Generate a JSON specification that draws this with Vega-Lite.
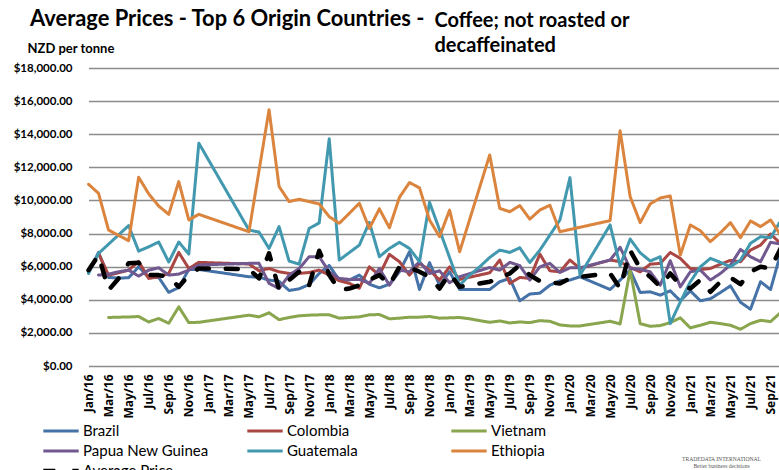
{
"$schema":"https://vega.github.io/schema/vega-lite/v6.json",
"width":695,"height":298,
"autosize":"none",
"padding":{"left":84,"top":68,"right":0,"bottom":104},
"background":"white",
"title":{"text":"Average Prices - Top 6 Origin Countries -","anchor":"start","frame":"group","dx":-54,"dy":21,"font":"Lato","fontSize":21.9,"fontWeight":"bold","color":"#000000","offset":0},
"data":{"values":[
{"m":"Jan/16","Brazil":5650,"Guatemala":5590,"Ethiopia":10980,"Average Price":5790},
{"m":"Feb/16","Brazil":6860,"Colombia":6800,"Papua New Guinea":5490,"Guatemala":6800,"Ethiopia":10430,"Average Price":6700},
{"m":"Mar/16","Brazil":5350,"Colombia":5490,"Vietnam":2930,"Papua New Guinea":5550,"Ethiopia":8210,"Average Price":4580},
{"m":"Apr/16","Brazil":5310,"Colombia":5630,"Vietnam":2950,"Papua New Guinea":5690,"Average Price":5290},
{"m":"May/16","Brazil":5330,"Colombia":5790,"Vietnam":2960,"Papua New Guinea":5790,"Guatemala":8480,"Ethiopia":7570,"Average Price":6200},
{"m":"Jun/16","Brazil":5990,"Colombia":6320,"Vietnam":2990,"Papua New Guinea":5430,"Guatemala":6940,"Ethiopia":11400,"Average Price":6240},
{"m":"Jul/16","Brazil":5350,"Colombia":5290,"Vietnam":2660,"Papua New Guinea":5790,"Guatemala":7200,"Ethiopia":10400,"Average Price":5490},
{"m":"Aug/16","Brazil":5350,"Colombia":5390,"Vietnam":2870,"Papua New Guinea":5930,"Guatemala":7490,"Ethiopia":9660,"Average Price":5490},
{"m":"Sep/16","Brazil":4450,"Colombia":5590,"Vietnam":2580,"Papua New Guinea":5490,"Guatemala":6280,"Ethiopia":9160,"Average Price":5390},
{"m":"Oct/16","Brazil":4740,"Colombia":6860,"Vietnam":3570,"Papua New Guinea":5550,"Guatemala":7490,"Ethiopia":11140,"Average Price":4780},
{"m":"Nov/16","Brazil":5830,"Colombia":5890,"Vietnam":2620,"Papua New Guinea":5790,"Guatemala":6760,"Ethiopia":8820,"Average Price":5490},
{"m":"Dec/16","Brazil":5830,"Colombia":6260,"Vietnam":2640,"Papua New Guinea":6100,"Guatemala":13460,"Ethiopia":9160,"Average Price":5890},
{"m":"May/17","Brazil":5390,"Colombia":6160,"Vietnam":3070,"Papua New Guinea":6200,"Guatemala":8210,"Ethiopia":8110,"Average Price":5850},
{"m":"Jun/17","Brazil":5370,"Colombia":5750,"Vietnam":2970,"Papua New Guinea":6200,"Guatemala":8090,"Average Price":5290},
{"m":"Jul/17","Brazil":5190,"Colombia":5890,"Vietnam":3210,"Papua New Guinea":4990,"Guatemala":7100,"Ethiopia":15480,"Average Price":6800},
{"m":"Aug/17","Brazil":5110,"Colombia":5690,"Vietnam":2800,"Papua New Guinea":4680,"Guatemala":8420,"Ethiopia":10840,"Average Price":4620},
{"m":"Sep/17","Brazil":4560,"Colombia":5590,"Vietnam":2930,"Papua New Guinea":5490,"Guatemala":6340,"Ethiopia":9930,"Average Price":5190},
{"m":"Oct/17","Brazil":4660,"Colombia":5590,"Vietnam":3030,"Papua New Guinea":5890,"Guatemala":6150,"Ethiopia":10070,"Average Price":5690},
{"m":"Nov/17","Brazil":4920,"Colombia":5650,"Vietnam":3070,"Papua New Guinea":6600,"Guatemala":8310,"Ethiopia":9930,"Average Price":4880},
{"m":"Dec/17","Brazil":5590,"Colombia":5790,"Vietnam":3090,"Papua New Guinea":6600,"Guatemala":8640,"Ethiopia":9790,"Average Price":6960},
{"m":"Jan/18","Brazil":6070,"Colombia":5490,"Vietnam":3090,"Papua New Guinea":5690,"Guatemala":13720,"Ethiopia":9020,"Average Price":5490},
{"m":"Feb/18","Brazil":5190,"Colombia":5150,"Vietnam":2890,"Papua New Guinea":5290,"Guatemala":6400,"Ethiopia":8620,"Average Price":4580},
{"m":"Mar/18","Brazil":5190,"Colombia":4990,"Vietnam":2930,"Papua New Guinea":5230,"Guatemala":6850,"Ethiopia":9220,"Average Price":4680},
{"m":"Apr/18","Brazil":5490,"Colombia":4700,"Vietnam":2970,"Papua New Guinea":5230,"Guatemala":7300,"Ethiopia":9830,"Average Price":4880},
{"m":"May/18","Brazil":4940,"Colombia":5990,"Vietnam":3090,"Papua New Guinea":4990,"Guatemala":8680,"Ethiopia":8310,"Average Price":5200},
{"m":"Jun/18","Brazil":4720,"Colombia":5490,"Vietnam":3110,"Papua New Guinea":5890,"Guatemala":6600,"Ethiopia":9490,"Average Price":5490},
{"m":"Jul/18","Brazil":4940,"Colombia":6740,"Vietnam":2850,"Papua New Guinea":4880,"Guatemala":7100,"Ethiopia":8350,"Average Price":4880},
{"m":"Aug/18","Brazil":5690,"Colombia":6300,"Vietnam":2890,"Papua New Guinea":5790,"Guatemala":7470,"Ethiopia":10190,"Average Price":5990},
{"m":"Sep/18","Brazil":6900,"Colombia":5490,"Vietnam":2950,"Papua New Guinea":5690,"Guatemala":7100,"Ethiopia":11080,"Average Price":5950},
{"m":"Oct/18","Brazil":4620,"Colombia":6200,"Vietnam":2950,"Papua New Guinea":6300,"Guatemala":6300,"Ethiopia":10760,"Average Price":5690},
{"m":"Nov/18","Brazil":6240,"Colombia":5790,"Vietnam":2990,"Papua New Guinea":5590,"Guatemala":9890,"Ethiopia":8820,"Average Price":5390},
{"m":"Dec/18","Brazil":4880,"Colombia":5190,"Vietnam":2890,"Papua New Guinea":5750,"Ethiopia":7810,"Average Price":4680},
{"m":"Jan/19","Brazil":5690,"Colombia":5990,"Vietnam":2910,"Papua New Guinea":5030,"Ethiopia":9420,"Average Price":5590},
{"m":"Feb/19","Brazil":4620,"Colombia":5230,"Vietnam":2930,"Papua New Guinea":5390,"Guatemala":4880,"Ethiopia":6900,"Average Price":4780},
{"m":"Mar/19","Vietnam":2850,"Guatemala":5490},
{"m":"Apr/19","Vietnam":2740,"Guatemala":5990},
{"m":"May/19","Brazil":4620,"Colombia":5630,"Vietnam":2640,"Papua New Guinea":5950,"Guatemala":6560,"Ethiopia":12750,"Average Price":5090},
{"m":"Jun/19","Brazil":5090,"Colombia":6400,"Vietnam":2720,"Papua New Guinea":5790,"Guatemala":7000,"Ethiopia":9520,"Average Price":5300},
{"m":"Jul/19","Brazil":5290,"Colombia":4990,"Vietnam":2600,"Papua New Guinea":6260,"Guatemala":6860,"Ethiopia":9320,"Average Price":5590},
{"m":"Aug/19","Brazil":3940,"Colombia":5350,"Vietnam":2660,"Papua New Guinea":6060,"Guatemala":7140,"Ethiopia":9690,"Average Price":6100},
{"m":"Sep/19","Brazil":4350,"Colombia":5290,"Vietnam":2620,"Papua New Guinea":5190,"Guatemala":6250,"Ethiopia":8870,"Average Price":5490},
{"m":"Oct/19","Brazil":4400,"Colombia":6760,"Vietnam":2740,"Papua New Guinea":5990,"Guatemala":7000,"Ethiopia":9420,"Average Price":5130},
{"m":"Nov/19","Brazil":4880,"Colombia":5750,"Vietnam":2700,"Papua New Guinea":6200,"Guatemala":7910,"Ethiopia":9710,"Average Price":5050},
{"m":"Dec/19","Brazil":5150,"Colombia":5690,"Vietnam":2480,"Papua New Guinea":5650,"Guatemala":8820,"Ethiopia":8110,"Average Price":4990},
{"m":"Jan/20","Brazil":5190,"Colombia":6400,"Vietnam":2420,"Papua New Guinea":5930,"Guatemala":11380,"Average Price":5290},
{"m":"Feb/20","Brazil":5390,"Colombia":5890,"Vietnam":2420,"Papua New Guinea":5930,"Guatemala":5490,"Average Price":5390},
{"m":"May/20","Brazil":4620,"Colombia":6400,"Vietnam":2700,"Papua New Guinea":6400,"Guatemala":8520,"Ethiopia":8780,"Average Price":5590},
{"m":"Jun/20","Brazil":5190,"Colombia":6300,"Vietnam":2540,"Papua New Guinea":7170,"Guatemala":6050,"Ethiopia":14210,"Average Price":4680},
{"m":"Jul/20","Brazil":5790,"Colombia":5950,"Vietnam":5790,"Papua New Guinea":5890,"Guatemala":7670,"Ethiopia":10230,"Average Price":6980},
{"m":"Aug/20","Brazil":4440,"Colombia":5690,"Vietnam":2560,"Papua New Guinea":5830,"Guatemala":6840,"Ethiopia":8660,"Average Price":5890},
{"m":"Sep/20","Brazil":4480,"Colombia":6150,"Vietnam":2400,"Papua New Guinea":5690,"Guatemala":6340,"Ethiopia":9790,"Average Price":5390},
{"m":"Oct/20","Brazil":4280,"Colombia":6200,"Vietnam":2440,"Papua New Guinea":4880,"Guatemala":6600,"Ethiopia":10150,"Average Price":4780},
{"m":"Nov/20","Brazil":4540,"Colombia":6860,"Vietnam":2620,"Papua New Guinea":6360,"Guatemala":2560,"Ethiopia":10270,"Average Price":5590},
{"m":"Dec/20","Brazil":3940,"Colombia":6500,"Vietnam":2910,"Papua New Guinea":4780,"Guatemala":3870,"Ethiopia":6700,"Average Price":4880},
{"m":"Jan/21","Brazil":4540,"Colombia":5890,"Vietnam":2300,"Papua New Guinea":5690,"Guatemala":5090,"Ethiopia":8520,"Average Price":4680},
{"m":"Feb/21","Brazil":3940,"Colombia":5830,"Vietnam":2460,"Papua New Guinea":5790,"Guatemala":5990,"Ethiopia":8170,"Average Price":5200},
{"m":"Mar/21","Brazil":4060,"Colombia":5890,"Vietnam":2640,"Papua New Guinea":5190,"Guatemala":6500,"Ethiopia":7510,"Average Price":4480},
{"m":"Apr/21","Brazil":4440,"Colombia":6150,"Vietnam":2560,"Papua New Guinea":5590,"Guatemala":6260,"Ethiopia":8050,"Average Price":5090},
{"m":"May/21","Brazil":4840,"Colombia":6380,"Vietnam":2460,"Papua New Guinea":6100,"Guatemala":5990,"Ethiopia":8660,"Average Price":5350},
{"m":"Jun/21","Brazil":3850,"Colombia":6300,"Vietnam":2220,"Papua New Guinea":7040,"Guatemala":6400,"Ethiopia":7750,"Average Price":4940},
{"m":"Jul/21","Brazil":3430,"Colombia":7000,"Vietnam":2560,"Papua New Guinea":6600,"Guatemala":7410,"Ethiopia":8760,"Average Price":5690},
{"m":"Aug/21","Brazil":5090,"Colombia":7300,"Vietnam":2760,"Papua New Guinea":6300,"Guatemala":7810,"Ethiopia":8420,"Average Price":6000},
{"m":"Sep/21","Brazil":4620,"Colombia":7970,"Vietnam":2680,"Papua New Guinea":7470,"Guatemala":7750,"Ethiopia":8820,"Average Price":5890},
{"m":"Oct/21","Brazil":6800,"Colombia":7400,"Vietnam":3230,"Papua New Guinea":7370,"Guatemala":8760,"Ethiopia":7910,"Average Price":7100}
]},
"transform":[
{"fold":["Brazil","Colombia","Vietnam","Papua New Guinea","Guatemala","Ethiopia","Average Price"],"as":["series","price"]},
{"filter":"isValid(datum.price)"}
],
"encoding":{
"x":{"field":"m","type":"ordinal","sort":null,
"scale":{"type":"point","padding":0,"range":[4.5,696.6],
"domain":["Jan/16","Feb/16","Mar/16","Apr/16","May/16","Jun/16","Jul/16","Aug/16","Sep/16","Oct/16","Nov/16","Dec/16","Jan/17","Feb/17","Mar/17","Apr/17","May/17","Jun/17","Jul/17","Aug/17","Sep/17","Oct/17","Nov/17","Dec/17","Jan/18","Feb/18","Mar/18","Apr/18","May/18","Jun/18","Jul/18","Aug/18","Sep/18","Oct/18","Nov/18","Dec/18","Jan/19","Feb/19","Mar/19","Apr/19","May/19","Jun/19","Jul/19","Aug/19","Sep/19","Oct/19","Nov/19","Dec/19","Jan/20","Feb/20","Mar/20","Apr/20","May/20","Jun/20","Jul/20","Aug/20","Sep/20","Oct/20","Nov/20","Dec/20","Jan/21","Feb/21","Mar/21","Apr/21","May/21","Jun/21","Jul/21","Aug/21","Sep/21","Oct/21"]},
"axis":{"values":["Jan/16","Mar/16","May/16","Jul/16","Sep/16","Nov/16","Jan/17","Mar/17","May/17","Jul/17","Sep/17","Nov/17","Jan/18","Mar/18","May/18","Jul/18","Sep/18","Nov/18","Jan/19","Mar/19","May/19","Jul/19","Sep/19","Nov/19","Jan/20","Mar/20","May/20","Jul/20","Sep/20","Nov/20","Jan/21","Mar/21","May/21","Jul/21","Sep/21"],
"labelAngle":-90,"labelAlign":"right","labelBaseline":"middle","labelFont":"Open Sans","labelFontSize":12,"labelFontWeight":"bold","labelColor":"#000000","labelPadding":8,"labelOverlap":false,"ticks":false,"domain":false,"grid":false,
"title":["Coffee; not roasted or","decaffeinated"],"titleX":350,"titleY":-340,"titleAlign":"left","titleAnchor":"start","titleBaseline":"alphabetic","titleFont":"Lato","titleFontSize":20,"titleFontWeight":"bold","titleColor":"#000000","titleLineHeight":25}},
"y":{"field":"price","type":"quantitative",
"scale":{"domain":[0,18000],"nice":false},
"axis":{"values":[0,2000,4000,6000,8000,10000,12000,14000,16000,18000],"format":"$,.2f","labelFont":"Lato","labelFontSize":11.5,"labelFontWeight":"bold","labelColor":"#000000","labelPadding":12,"ticks":false,"domain":false,"grid":true,"gridColor":"#8c8c8c","gridWidth":1.3,
"title":"NZD per tonne","titleAngle":0,"titleX":-57,"titleY":-16,"titleAlign":"left","titleBaseline":"alphabetic","titleFont":"Lato","titleFontSize":13,"titleFontWeight":"bold","titleColor":"#000000"}},
"color":{"field":"series","type":"nominal",
"scale":{"domain":["Brazil","Colombia","Vietnam","Papua New Guinea","Guatemala","Ethiopia","Average Price"],"range":["#4572a7","#aa4643","#89a54e","#71588f","#4198af","#db843d","#000000"]},
"legend":{"title":null,"orient":"none","legendX":-43,"legendY":354,"direction":"horizontal","columns":3,"gridAlign":"all","columnPadding":36,"rowPadding":2,"clipHeight":18,"symbolType":"stroke","symbolSize":1250,"symbolStrokeWidth":3,"labelFont":"Lato","labelFontSize":15,"labelColor":"#000000","labelOffset":2,"labelLimit":200}},
"strokeDash":{"field":"series","type":"nominal",
"scale":{"type":"ordinal","domain":["Brazil","Colombia","Vietnam","Papua New Guinea","Guatemala","Ethiopia","Average Price"],"range":[[1,0],[1,0],[1,0],[1,0],[1,0],[1,0],[12,17]]},"legend":null},
"strokeWidth":{"field":"series","type":"nominal",
"scale":{"type":"ordinal","domain":["Brazil","Colombia","Vietnam","Papua New Guinea","Guatemala","Ethiopia","Average Price"],"range":[3,3,3,3,3,3,4.5]},"legend":null}
},
"layer":[
{"layer":[
{"transform":[{"filter":"datum.series==='Brazil'"}],"mark":{"type":"line","clip":true,"strokeJoin":"round","strokeCap":"round"}},
{"transform":[{"filter":"datum.series==='Colombia'"}],"mark":{"type":"line","clip":true,"strokeJoin":"round","strokeCap":"round"}},
{"transform":[{"filter":"datum.series==='Vietnam'"}],"mark":{"type":"line","clip":true,"strokeJoin":"round","strokeCap":"round"}},
{"transform":[{"filter":"datum.series==='Papua New Guinea'"}],"mark":{"type":"line","clip":true,"strokeJoin":"round","strokeCap":"round"}},
{"transform":[{"filter":"datum.series==='Guatemala'"}],"mark":{"type":"line","clip":true,"strokeJoin":"round","strokeCap":"round"}},
{"transform":[{"filter":"datum.series==='Ethiopia'"}],"mark":{"type":"line","clip":true,"strokeJoin":"round","strokeCap":"round"}}
]},
{"transform":[{"filter":"datum.series==='Average Price'"}],"mark":{"type":"line","clip":true,"strokeJoin":"round","strokeCap":"round"},
"encoding":{"y":{"field":"price","type":"quantitative","scale":{"domain":[0,18000],"nice":false},
"axis":{"orient":"right","labels":false,"ticks":false,"domain":false,"grid":false,
"title":["TRADEDATA INTERNATIONAL","Better business decisions"],"titleAngle":0,"titleX":-58,"titleY":392,"titleAlign":"center","titleBaseline":"alphabetic","titleFont":"Liberation Serif","titleFontSize":5.6,"titleFontWeight":"normal","titleColor":"#555555","titleLineHeight":7}}}}
],
"resolve":{"axis":{"y":"independent"}},
"config":{"view":{"stroke":null}}
}
